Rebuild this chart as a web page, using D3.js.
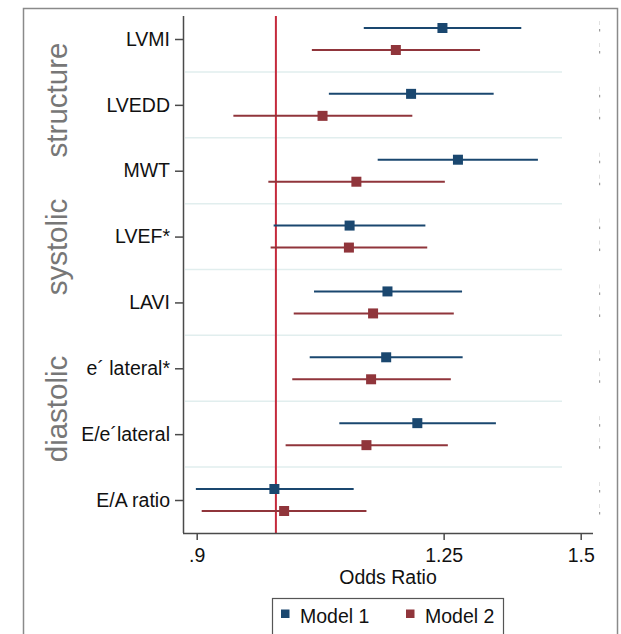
<!DOCTYPE html>
<html>
<head>
<meta charset="utf-8">
<script src="https://cdn.jsdelivr.net/npm/d3@7"></script>
<style>
  body { margin: 0; background: #fff; }
  svg text { font-family: "Liberation Sans", Arial, Helvetica, sans-serif; }
</style>
</head>
<body>
<div id="chart"></div>
<script>
  // odds ratios
  var categories = ["LVMI", "LVEDD", "MWT", "LVEF*", "LAVI", "e\u00b4 lateral*", "E/e\u00b4lateral", "E/A ratio"];
  var m1_or = [1.248, 1.197, 1.274, 1.103, 1.160, 1.158, 1.207, 0.998];
  var m1_lo = [1.124, 1.073, 1.145, 0.997, 1.052, 1.046, 1.088, 0.899];
  var m1_hi = [1.386, 1.336, 1.417, 1.220, 1.281, 1.282, 1.340, 1.109];
  var m2_or = [1.173, 1.064, 1.113, 1.102, 1.138, 1.135, 1.128, 1.011];
  var m2_lo = [1.049, 0.945, 0.990, 0.993, 1.024, 1.022, 1.013, 0.906];
  var m2_hi = [1.312, 1.199, 1.252, 1.223, 1.267, 1.262, 1.257, 1.128];
  var xTicks = [0.9, 1.25, 1.5];
  var xTickLabels = [".9", "1.25", "1.5"];
  var groups = ["structure", "systolic", "diastolic"];
  var seriesNames = ["Model 1", "Model 2"];

  var W = 621, H = 634;
  var blue = "#1a476f", red = "#90353b", refRed = "#c42a3c", axisCol = "#4a4a4a";
  var groupPos = [100, 247, 409];
  var fs = 19.5;

  var svg = d3.select("#chart").append("svg").attr("width", W).attr("height", H);
  svg.append("rect").attr("width", W).attr("height", H).attr("fill", "#fff");

  // outer frame
  svg.append("rect").attr("x", 23.5).attr("y", 8.5).attr("width", 594).attr("height", 660)
    .attr("fill", "none").attr("stroke", "#8a8a8a").attr("stroke-width", 1.5);

  var x = d3.scaleLog().domain([0.9, 1.5]).range([196.7, 580.7]);
  var y = d3.scalePoint().domain(categories).range([39, 500]);
  var plotL = 183, plotR = 593, plotT = 16, plotB = 533;

  // light grid lines between rows
  var mids = categories.slice(1).map(function(c, i) {
    return (y(categories[i]) + y(c)) / 2;
  });
  svg.selectAll("line.grid").data(mids).enter().append("line")
    .attr("class", "grid")
    .attr("x1", plotL + 2).attr("x2", 562)
    .attr("y1", function(d) { return d; }).attr("y2", function(d) { return d; })
    .attr("stroke", "#e1eeee").attr("stroke-width", 1.5);

  // reference line at OR = 1
  svg.append("line").attr("x1", x(1)).attr("x2", x(1)).attr("y1", plotT).attr("y2", plotB)
    .attr("stroke", refRed).attr("stroke-width", 2);

  var rows = [];
  categories.forEach(function(c, i) {
    rows.push({ cat: c, s: 0, or: m1_or[i], lo: m1_lo[i], hi: m1_hi[i] });
    rows.push({ cat: c, s: 1, or: m2_or[i], lo: m2_lo[i], hi: m2_hi[i] });
  });
  var off = [-11, 11], cols = [blue, red];
  var yy = function(d) { return y(d.cat) + off[d.s]; };

  svg.selectAll("line.ci").data(rows).enter().append("line")
    .attr("class", "ci")
    .attr("x1", function(d) { return x(d.lo); })
    .attr("x2", function(d) { return x(d.hi); })
    .attr("y1", yy).attr("y2", yy)
    .attr("stroke", function(d) { return cols[d.s]; })
    .attr("stroke-width", 2);

  svg.selectAll("rect.pt").data(rows).enter().append("rect")
    .attr("class", "pt")
    .attr("x", function(d) { return x(d.or) - 5; })
    .attr("y", function(d) { return yy(d) - 5; })
    .attr("width", 10).attr("height", 10)
    .attr("fill", function(d) { return cols[d.s]; });

  // faint clipped marks at the right edge
  svg.selectAll("line.mark").data(rows).enter().append("line")
    .attr("class", "mark")
    .attr("x1", 599.5).attr("x2", 599.5)
    .attr("y1", function(d) { return yy(d) - 7; })
    .attr("y2", function(d) { return yy(d) - 3; })
    .attr("stroke", "#e2e2e2").attr("stroke-width", 1);
  svg.selectAll("rect.mark").data(rows).enter().append("rect")
    .attr("class", "mark")
    .attr("x", 599).attr("y", function(d) { return yy(d) + 1; })
    .attr("width", 1.2).attr("height", 2.5).attr("fill", "#9a9a9a");

  // axes
  var yAxis = d3.axisLeft(y).tickSize(8).tickPadding(5).tickSizeOuter(0);
  var gy = svg.append("g").attr("transform", "translate(" + plotL + ",0)").call(yAxis);
  gy.select(".domain").attr("d", "M0.5," + plotT + "V" + plotB);
  gy.selectAll("text").attr("font-size", fs).attr("fill", "#111")
    .style("font-family", "'Liberation Sans', Arial, sans-serif");

  var xAxis = d3.axisBottom(x).tickValues(xTicks)
    .tickFormat(function(d, i) { return xTickLabels[i]; })
    .tickSize(7).tickPadding(8).tickSizeOuter(0);
  var gx = svg.append("g").attr("transform", "translate(0," + plotB + ")").call(xAxis);
  gx.select(".domain").attr("d", "M" + plotL + ",0.5H" + plotR);
  gx.selectAll("text").attr("font-size", fs).attr("fill", "#111")
    .style("font-family", "'Liberation Sans', Arial, sans-serif");
  [gx, gy].forEach(function(g) {
    g.selectAll(".domain, .tick line").attr("stroke", axisCol).attr("stroke-width", 1.5);
  });

  svg.append("text").attr("x", (plotL + plotR) / 2).attr("y", 584)
    .attr("text-anchor", "middle").attr("font-size", fs).attr("fill", "#111")
    .text("Odds Ratio");

  // rotated group labels
  svg.selectAll("text.group").data(groups).enter().append("text")
    .attr("class", "group")
    .attr("transform", function(d, i) { return "translate(67," + groupPos[i] + ") rotate(-90)"; })
    .attr("text-anchor", "middle").attr("font-size", 29.5).attr("fill", "#777")
    .text(function(d) { return d; });

  // legend
  var lg = svg.append("g");
  lg.append("rect").attr("x", 272.5).attr("y", 598.5).attr("width", 231).attr("height", 50)
    .attr("fill", "#fff").attr("stroke", "#555").attr("stroke-width", 1.2);
  var lx = [281, 406];
  seriesNames.forEach(function(n, i) {
    lg.append("rect").attr("x", lx[i]).attr("y", 609.5).attr("width", 8.5).attr("height", 8.5)
      .attr("fill", cols[i]);
    lg.append("text").attr("x", lx[i] + 19).attr("y", 623).attr("font-size", fs)
      .attr("fill", "#111").text(n);
  });
</script>
</body>
</html>
